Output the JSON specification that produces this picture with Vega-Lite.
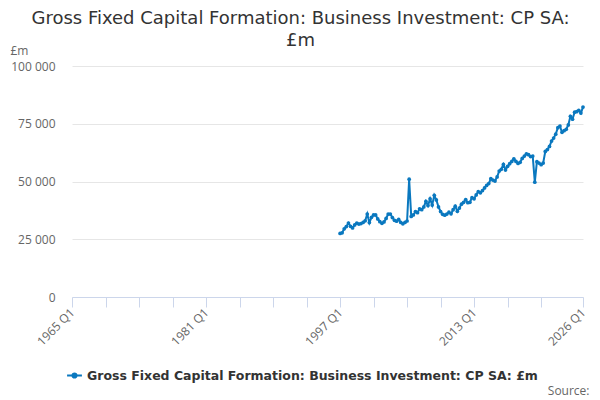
{
  "$schema": "https://vega.github.io/schema/vega-lite/v6.json",
  "autosize": "none",
  "width": 511,
  "height": 231,
  "padding": {"left": 72, "top": 66, "right": 17, "bottom": 103},
  "background": "#ffffff",
  "config": {
    "view": {"stroke": null},
    "font": "DejaVu Sans"
  },
  "title": {
    "text": ["Gross Fixed Capital Formation: Business Investment: CP SA:", "£m"],
    "fontSize": 18,
    "fontWeight": "normal",
    "color": "#333333",
    "anchor": "middle",
    "dx": -27,
    "dy": 22,
    "offset": 16,
    "lineHeight": 22
  },
  "data": {
    "values": [
      {"quarter": "1997-01-01", "value": 27.5}, {"quarter": "1997-04-01", "value": 27.8}, {"quarter": "1997-07-01", "value": 29.5}, {"quarter": "1997-10-01", "value": 30.5},
      {"quarter": "1998-01-01", "value": 32.0}, {"quarter": "1998-04-01", "value": 30.6}, {"quarter": "1998-07-01", "value": 29.9}, {"quarter": "1998-10-01", "value": 31.2},
      {"quarter": "1999-01-01", "value": 32.0}, {"quarter": "1999-04-01", "value": 31.6}, {"quarter": "1999-07-01", "value": 31.8}, {"quarter": "1999-10-01", "value": 32.3},
      {"quarter": "2000-01-01", "value": 33.0}, {"quarter": "2000-04-01", "value": 35.9}, {"quarter": "2000-07-01", "value": 32.2}, {"quarter": "2000-10-01", "value": 34.5},
      {"quarter": "2001-01-01", "value": 35.5}, {"quarter": "2001-04-01", "value": 35.5}, {"quarter": "2001-07-01", "value": 33.8}, {"quarter": "2001-10-01", "value": 32.6},
      {"quarter": "2002-01-01", "value": 31.9}, {"quarter": "2002-04-01", "value": 32.5}, {"quarter": "2002-07-01", "value": 34.0}, {"quarter": "2002-10-01", "value": 35.9},
      {"quarter": "2003-01-01", "value": 35.9}, {"quarter": "2003-04-01", "value": 34.4}, {"quarter": "2003-07-01", "value": 33.2}, {"quarter": "2003-10-01", "value": 32.8},
      {"quarter": "2004-01-01", "value": 33.6}, {"quarter": "2004-04-01", "value": 32.3}, {"quarter": "2004-07-01", "value": 31.7}, {"quarter": "2004-10-01", "value": 32.3},
      {"quarter": "2005-01-01", "value": 32.9}, {"quarter": "2005-04-01", "value": 51.0}, {"quarter": "2005-07-01", "value": 34.9}, {"quarter": "2005-10-01", "value": 35.5},
      {"quarter": "2006-01-01", "value": 37.0}, {"quarter": "2006-04-01", "value": 36.5}, {"quarter": "2006-07-01", "value": 38.2}, {"quarter": "2006-10-01", "value": 37.8},
      {"quarter": "2007-01-01", "value": 39.0}, {"quarter": "2007-04-01", "value": 41.4}, {"quarter": "2007-07-01", "value": 39.6}, {"quarter": "2007-10-01", "value": 42.5},
      {"quarter": "2008-01-01", "value": 39.8}, {"quarter": "2008-04-01", "value": 44.0}, {"quarter": "2008-07-01", "value": 42.0}, {"quarter": "2008-10-01", "value": 39.0},
      {"quarter": "2009-01-01", "value": 37.0}, {"quarter": "2009-04-01", "value": 35.8}, {"quarter": "2009-07-01", "value": 35.4}, {"quarter": "2009-10-01", "value": 35.9},
      {"quarter": "2010-01-01", "value": 36.7}, {"quarter": "2010-04-01", "value": 36.0}, {"quarter": "2010-07-01", "value": 37.8}, {"quarter": "2010-10-01", "value": 39.3},
      {"quarter": "2011-01-01", "value": 37.1}, {"quarter": "2011-04-01", "value": 38.5}, {"quarter": "2011-07-01", "value": 40.2}, {"quarter": "2011-10-01", "value": 41.0},
      {"quarter": "2012-01-01", "value": 42.2}, {"quarter": "2012-04-01", "value": 40.8}, {"quarter": "2012-07-01", "value": 41.0}, {"quarter": "2012-10-01", "value": 43.0},
      {"quarter": "2013-01-01", "value": 42.5}, {"quarter": "2013-04-01", "value": 44.2}, {"quarter": "2013-07-01", "value": 45.6}, {"quarter": "2013-10-01", "value": 45.1},
      {"quarter": "2014-01-01", "value": 46.1}, {"quarter": "2014-04-01", "value": 47.2}, {"quarter": "2014-07-01", "value": 48.3}, {"quarter": "2014-10-01", "value": 49.1},
      {"quarter": "2015-01-01", "value": 51.2}, {"quarter": "2015-04-01", "value": 50.6}, {"quarter": "2015-07-01", "value": 50.2}, {"quarter": "2015-10-01", "value": 52.0},
      {"quarter": "2016-01-01", "value": 54.5}, {"quarter": "2016-04-01", "value": 55.3}, {"quarter": "2016-07-01", "value": 57.4}, {"quarter": "2016-10-01", "value": 55.0},
      {"quarter": "2017-01-01", "value": 56.6}, {"quarter": "2017-04-01", "value": 57.7}, {"quarter": "2017-07-01", "value": 58.7}, {"quarter": "2017-10-01", "value": 59.8},
      {"quarter": "2018-01-01", "value": 58.7}, {"quarter": "2018-04-01", "value": 57.8}, {"quarter": "2018-07-01", "value": 58.3}, {"quarter": "2018-10-01", "value": 60.0},
      {"quarter": "2019-01-01", "value": 61.0}, {"quarter": "2019-04-01", "value": 62.0}, {"quarter": "2019-07-01", "value": 61.6}, {"quarter": "2019-10-01", "value": 60.8},
      {"quarter": "2020-01-01", "value": 61.0}, {"quarter": "2020-04-01", "value": 49.7}, {"quarter": "2020-07-01", "value": 58.6}, {"quarter": "2020-10-01", "value": 58.0},
      {"quarter": "2021-01-01", "value": 57.3}, {"quarter": "2021-04-01", "value": 58.0}, {"quarter": "2021-07-01", "value": 63.0}, {"quarter": "2021-10-01", "value": 63.8},
      {"quarter": "2022-01-01", "value": 65.2}, {"quarter": "2022-04-01", "value": 67.5}, {"quarter": "2022-07-01", "value": 68.8}, {"quarter": "2022-10-01", "value": 70.5},
      {"quarter": "2023-01-01", "value": 73.3}, {"quarter": "2023-04-01", "value": 74.0}, {"quarter": "2023-07-01", "value": 71.3}, {"quarter": "2023-10-01", "value": 72.0},
      {"quarter": "2024-01-01", "value": 72.6}, {"quarter": "2024-04-01", "value": 74.5}, {"quarter": "2024-07-01", "value": 78.2}, {"quarter": "2024-10-01", "value": 77.0},
      {"quarter": "2025-01-01", "value": 80.0}, {"quarter": "2025-04-01", "value": 80.2}, {"quarter": "2025-07-01", "value": 80.8}, {"quarter": "2025-10-01", "value": 79.6},
      {"quarter": "2026-01-01", "value": 82.2}
    ]
  },
  "transform": [
    {"calculate": "datum.value * 1000", "as": "gbp"}
  ],
  "mark": {
    "type": "line",
    "strokeWidth": 2,
    "point": {"filled": true, "size": 14}
  },
  "encoding": {
    "x": {
      "field": "quarter",
      "type": "temporal",
      "scale": {
        "type": "utc",
        "domain": [
          {"year": 1965, "month": 1, "date": 1, "utc": true},
          {"year": 2026, "month": 1, "date": 1, "utc": true}
        ]
      },
      "axis": {
        "values": [
          {"year": 1965, "month": 1, "date": 1, "utc": true},
          {"year": 1969, "month": 1, "date": 1, "utc": true},
          {"year": 1973, "month": 1, "date": 1, "utc": true},
          {"year": 1977, "month": 1, "date": 1, "utc": true},
          {"year": 1981, "month": 1, "date": 1, "utc": true},
          {"year": 1985, "month": 1, "date": 1, "utc": true},
          {"year": 1989, "month": 1, "date": 1, "utc": true},
          {"year": 1993, "month": 1, "date": 1, "utc": true},
          {"year": 1997, "month": 1, "date": 1, "utc": true},
          {"year": 2001, "month": 1, "date": 1, "utc": true},
          {"year": 2005, "month": 1, "date": 1, "utc": true},
          {"year": 2009, "month": 1, "date": 1, "utc": true},
          {"year": 2013, "month": 1, "date": 1, "utc": true},
          {"year": 2017, "month": 1, "date": 1, "utc": true},
          {"year": 2021, "month": 1, "date": 1, "utc": true},
          {"year": 2026, "month": 1, "date": 1, "utc": true}
        ],
        "labelExpr": "((utcyear(datum.value) - 1965) % 16 == 0 || utcyear(datum.value) == 2026) ? utcyear(datum.value) + ' Q' + (floor(utcmonth(datum.value) / 3) + 1) : ''",
        "labelAngle": -45,
        "labelAlign": "right",
        "labelBaseline": "middle",
        "labelPadding": 3,
        "labelFont": "Open Sans",
        "labelFontSize": 12,
        "labelColor": "#666666",
        "labelOverlap": false,
        "labelBound": false,
        "labelFlush": false,
        "grid": false,
        "domainColor": "#ccd6eb",
        "tickColor": "#ccd6eb",
        "tickSize": 10,
        "title": "Source:",
        "titleFont": "Open Sans",
        "titleFontSize": 12,
        "titleFontWeight": "normal",
        "titleColor": "#666666",
        "titleAlign": "right",
        "titleBaseline": "middle",
        "titleX": 517,
        "titleY": 93
      }
    },
    "y": {
      "field": "gbp",
      "type": "quantitative",
      "scale": {"domain": [0, 100000]},
      "axis": {
        "values": [0, 25000, 50000, 75000, 100000],
        "labelExpr": "replace(format(datum.value, ','), ',', ' ')",
        "labelFont": "Open Sans",
        "labelFontSize": 12,
        "labelColor": "#666666",
        "labelPadding": 17,
        "domain": false,
        "ticks": false,
        "gridColor": "#e6e6e6",
        "title": "£m",
        "titleFont": "Open Sans",
        "titleFontSize": 12,
        "titleFontWeight": "normal",
        "titleColor": "#666666",
        "titleAngle": 0,
        "titleAlign": "left",
        "titleBaseline": "middle",
        "titleX": -62,
        "titleY": -16
      }
    },
    "color": {
      "datum": "Gross Fixed Capital Formation: Business Investment: CP SA: £m",
      "type": "nominal",
      "scale": {"range": ["#0a78bf"]},
      "legend": {
        "title": null,
        "orient": "none",
        "legendX": -6,
        "legendY": 301,
        "symbolType": "M -1 0 L 1 0 M -0.28 0 A 0.28 0.28 0 1 1 0.28 0 A 0.28 0.28 0 1 1 -0.28 0 Z",
        "symbolSize": 220,
        "symbolStrokeWidth": 2,
        "symbolFillColor": "#0a78bf",
        "labelFontSize": 12.5,
        "labelFontWeight": "bold",
        "labelColor": "#333333",
        "labelLimit": 600
      }
    }
  }
}
